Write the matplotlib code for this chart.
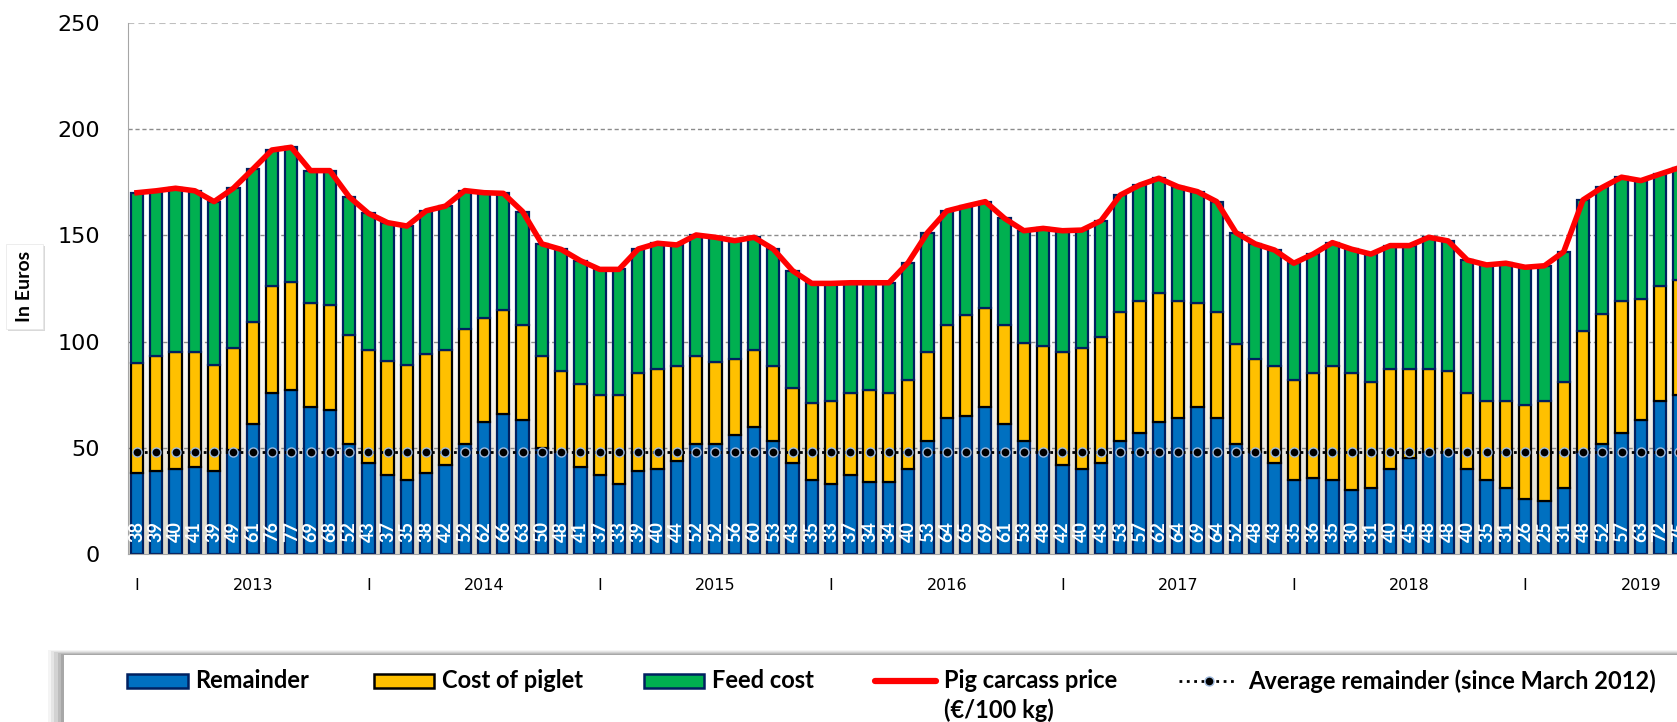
import matplotlib
matplotlib.use("Agg")
import matplotlib.pyplot as plt
from matplotlib.patches import Rectangle
from matplotlib.lines import Line2D
import numpy as np

# monthly values, Jan 2013 onwards (EUR per 100 kg)
remainder = [38, 39, 40, 41, 39, 49, 61, 76, 77, 69, 68, 52,
             43, 37, 35, 38, 42, 52, 62, 66, 63, 50, 48, 41,
             37, 33, 39, 40, 44, 52, 52, 56, 60, 53, 43, 35,
             33, 37, 34, 34, 40, 53, 64, 65, 69, 61, 53, 48,
             42, 40, 43, 53, 57, 62, 64, 69, 64, 52, 48, 43,
             35, 36, 35, 30, 31, 40, 45, 48, 48, 40, 35, 31,
             26, 25, 31, 48, 52, 57, 63, 72, 75]
piglet = [52, 54, 55, 54, 50, 48, 48, 50, 51, 49, 49, 51,
          53, 54, 54, 56, 54, 54, 49, 49, 45, 43, 38, 39,
          38, 42, 46, 47, 44.5, 41, 38.5, 36, 36, 35.5, 35, 36,
          39, 39, 43, 42, 42, 42, 44, 47.5, 47, 47, 46.5, 50,
          53, 57, 59, 61, 62, 61, 55, 49, 50, 47, 44, 45.5,
          47, 49, 53.5, 55, 50, 47, 42, 39, 38, 36, 37, 41,
          44, 47, 50, 57, 61, 62, 57, 54, 54]
price = [170.1, 171.0, 172.2, 171.0, 165.9, 172.2, 181.1, 190.2, 191.5, 180.5, 180.5, 168.2,
         160.4, 156.0, 154.4, 161.6, 163.8, 171.1, 170.1, 169.8, 161.2, 146.0, 143.4, 138.1,
         134.0, 134.0, 143.6, 146.3, 145.5, 150.2, 149.1, 147.5, 149.1, 143.6, 133.4, 127.4,
         127.4, 127.7, 127.7, 127.7, 137.2, 151.3, 161.5, 163.8, 165.9, 158.0, 152.2, 153.3,
         152.2, 152.5, 156.9, 169.0, 173.7, 176.9, 172.9, 170.6, 165.9, 151.3, 146.0, 143.1,
         136.9, 141.2, 146.6, 143.5, 141.2, 145.2, 145.2, 149.1, 147.4, 138.4, 136.1, 136.9,
         135.0, 135.7, 142.3, 166.7, 172.6, 177.4, 175.8, 178.9, 181.9]
avg_remainder = 48.2
years = ["2013", "2014", "2015", "2016", "2017", "2018", "2019"]

rem = np.array(remainder, float)
pig = np.array(piglet, float)
feed = np.array(price) - rem - pig
x = np.arange(len(rem))

W, H = 1677, 722
fig = plt.figure(figsize=(W / 100, H / 100), dpi=100)
ax = fig.add_axes([128 / W, (H - 554) / H, (W - 128) / W, (554 - 23) / H])

xmin = -0.467
xmax = xmin + (W - 128) / 19.28
ax.set_xlim(xmin, xmax)
ax.set_ylim(0, 250)

# background gradient: white on top, beige near the base
vals = np.linspace(250, 0, 300)
t = np.clip((110 - vals) / 110, 0, 1)[:, None]
top_c = np.array([1.0, 1.0, 1.0])
bot_c = np.array([0.86, 0.845, 0.79])
grad = (top_c * (1 - t) + bot_c * t)[:, None, :]
ax.imshow(grad, extent=[xmin, xmax, 0, 250], aspect="auto", zorder=0)

for yv in [50, 100, 150, 200]:
    ax.axhline(yv, color="#8c8c8c", lw=1, ls=(0, (3, 2)), zorder=1)
ax.axhline(250, color="#bfbfbf", lw=1.5, ls=(0, (3, 2)), zorder=1)

bw = 0.64
ax.bar(x, rem, width=bw, color="#0070C0", edgecolor="#002060", lw=1.6, zorder=2)
ax.bar(x, pig, width=bw, bottom=rem, color="#FFC000", edgecolor="black", lw=1.6, zorder=2)
ax.bar(x, feed, width=bw, bottom=rem + pig, color="#00B050", edgecolor="#002060", lw=1.6, zorder=2)

ax.plot(x, price, color="#FF0000", lw=4, zorder=4, solid_joinstyle="round")
ax.plot(x, [avg_remainder] * len(x), ls=":", color="black", lw=2,
        marker="o", ms=6.5, mfc="black", mec="#9db8dc", mew=1, zorder=5)

for i, v in enumerate(remainder):
    ax.text(i, 10.5, str(v), rotation=90, ha="center", va="center", family="Lato",
            color="white", fontsize=13, fontweight="bold", zorder=6, clip_on=True)

ticks, labels = [], []
for k, yr in enumerate(years):
    ticks += [12 * k, 12 * k + 6]
    labels += ["I", yr]
ax.set_xticks(ticks)
ax.set_xticklabels(labels, fontsize=11.5)
ax.tick_params(axis="x", length=0, pad=17)
ax.set_yticks([0, 50, 100, 150, 200, 250])
ax.tick_params(axis="y", length=0, pad=20, labelsize=16)

for s in ["top", "right"]:
    ax.spines[s].set_visible(False)
ax.spines["left"].set_color("#a6a6a6")
ax.spines["bottom"].set_color("#a6a6a6")


def fx(px):
    return px / W


def fy(py):
    return 1 - py / H


# "In Euros" label box
fig.patches.append(Rectangle((fx(8), fy(331)), 37 / W, 85 / H, transform=fig.transFigure,
                             facecolor="#d9d9d9", edgecolor="none", zorder=1))
fig.patches.append(Rectangle((fx(6), fy(329)), 37 / W, 85 / H, transform=fig.transFigure,
                             facecolor="white", edgecolor="#e6e6e6", lw=0.5, zorder=2))
fig.text(fx(25), fy(286), "In Euros", rotation=90, ha="center", va="center",
         fontsize=14, fontweight="bold", family="Lato", zorder=3)

# legend box with soft shadow
for k, a in enumerate([0.08, 0.12, 0.18, 0.26, 0.34]):
    off = 16 - 3.2 * k
    fig.patches.append(Rectangle((fx(64 - off), 0), 1, fy(655 - off / 3), transform=fig.transFigure,
                                 facecolor="#7f7f7f", alpha=a, edgecolor="none", zorder=1))
fig.patches.append(Rectangle((fx(64), 0), 1, fy(655), transform=fig.transFigure,
                             facecolor="white", edgecolor="none", zorder=2))

ly = 681
lfont = dict(fontsize=17, fontweight="bold", family="Lato", va="center", ha="left", zorder=4)
for (x0, x1, tx, fc, ec, lab) in [(127, 188, 195, "#0070C0", "#002060", "Remainder"),
                                  (374, 434, 442, "#FFC000", "black", "Cost of piglet"),
                                  (644, 704, 712, "#00B050", "#002060", "Feed cost")]:
    fig.patches.append(Rectangle((fx(x0), fy(ly + 7)), (x1 - x0) / W, 14 / H,
                                 transform=fig.transFigure, facecolor=fc, edgecolor=ec,
                                 lw=1.8, zorder=3))
    fig.text(fx(tx), fy(ly), lab, **lfont)

fig.lines.append(Line2D([fx(875), fx(936)], [fy(ly), fy(ly)], transform=fig.transFigure,
                        color="#FF0000", lw=4.5, zorder=3, solid_capstyle="round"))
fig.text(fx(944), fy(ly), "Pig carcass price", **lfont)
fig.text(fx(944), fy(710), "(\u20ac/100 kg)", **lfont)

fig.lines.append(Line2D([fx(1179), fx(1235)], [fy(ly), fy(ly)], transform=fig.transFigure,
                        color="black", lw=2, ls=":", zorder=3))
fig.lines.append(Line2D([fx(1209)], [fy(ly)], transform=fig.transFigure, marker="o", ms=6.5,
                        mfc="black", mec="#9db8dc", color="black", zorder=4))
fig.text(fx(1248), fy(ly), "Average remainder (since March 2012)", **lfont)

fig.savefig("out.png", dpi=100)
